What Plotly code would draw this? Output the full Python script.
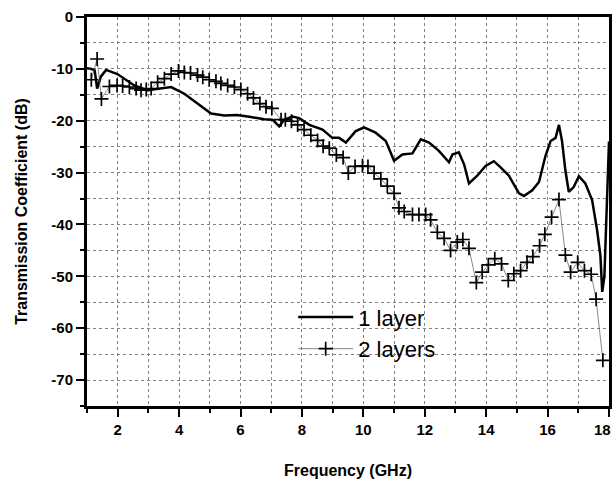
import plotly.graph_objects as go

# 1 layer (solid line)
freq_1 = [1.0, 1.14, 1.25, 1.33, 1.45, 1.62, 1.99, 2.54, 2.97, 3.3, 3.74, 4.17, 4.59, 5.04, 5.47, 5.89,
          6.34, 6.77, 7.04, 7.26, 7.42, 7.69, 7.91, 8.24, 8.67, 8.99, 9.21, 9.43, 9.75, 10.02, 10.4,
          10.73, 11.0, 11.27, 11.6, 11.87, 12.14, 12.46, 12.79, 12.9, 13.11, 13.28, 13.44, 13.71,
          13.98, 14.25, 14.47, 14.74, 15.07, 15.23, 15.5, 15.72, 15.93, 16.1, 16.26, 16.37, 16.47,
          16.58, 16.69, 16.85, 17.02, 17.23, 17.45, 17.61, 17.72, 17.78, 17.85, 17.92, 18.0]
tc_1 = [-9.9, -10.0, -10.3, -13.8, -11.5, -10.2, -11.0, -13.2, -14.1, -13.8, -13.5, -14.8, -16.7,
        -18.6, -19.0, -18.9, -19.3, -19.7, -19.8, -21.1, -19.8, -19.2, -19.5, -20.8, -21.7, -23.3,
        -23.3, -24.2, -22.0, -21.3, -22.3, -23.9, -27.7, -26.5, -26.3, -23.6, -24.2, -25.8, -28.0,
        -26.5, -26.1, -28.4, -32.1, -30.6, -28.7, -27.8, -29.0, -30.6, -34.0, -34.5, -33.4, -31.8,
        -26.8, -23.9, -23.3, -20.8, -23.9, -29.6, -33.7, -32.8, -30.7, -32.1, -35.3, -41.0, -46.0,
        -53.0, -50.0, -38.0, -24.0]

# 2 layers (line + symbols)
freq_2 = [1.14, 1.33, 1.47, 1.73, 1.98, 2.16, 2.38, 2.6, 2.76, 2.93, 3.09, 3.3, 3.52, 3.74, 3.98,
          4.17, 4.37, 4.6, 4.77, 4.98, 5.2, 5.36, 5.58, 5.8, 6.01, 6.23, 6.42, 6.63, 6.83, 7.02,
          7.32, 7.46, 7.66, 7.86, 8.07, 8.29, 8.51, 8.69, 8.89, 9.12, 9.34, 9.51, 9.73, 9.97, 10.15,
          10.35, 10.57, 10.78, 11.0, 11.16, 11.33, 11.6, 11.81, 12.03, 12.19, 12.41, 12.63, 12.84,
          13.06, 13.24, 13.44, 13.68, 13.87, 14.07, 14.28, 14.5, 14.72, 14.9, 15.12, 15.33, 15.52,
          15.74, 15.91, 16.13, 16.37, 16.58, 16.75, 16.98, 17.2, 17.42, 17.58, 17.8]
tc_2 = [-12.1, -8.1, -15.8, -13.4, -13.2, -13.3, -13.5, -13.8, -14.1, -14.0, -13.8, -12.6, -11.9,
        -11.0, -10.4, -10.7, -10.8, -11.2, -11.6, -12.1, -12.4, -12.8, -13.2, -13.5, -14.0, -14.8,
        -15.6, -16.7, -17.3, -17.6, -19.8, -19.8, -20.1, -20.8, -21.7, -22.8, -23.8, -24.9, -25.3,
        -26.6, -27.1, -30.1, -28.8, -28.7, -28.8, -30.1, -31.2, -32.6, -34.0, -36.8, -37.5, -38.1,
        -38.1, -38.1, -39.1, -41.5, -42.7, -45.0, -43.4, -42.9, -44.6, -51.2, -49.2, -47.8, -46.6,
        -47.6, -50.8, -49.5, -48.9, -47.3, -46.2, -44.1, -41.9, -38.6, -35.2, -45.9, -49.2, -47.3,
        -48.9, -49.6, -54.4, -66.2]

x_ticks = [2, 4, 6, 8, 10, 12, 14, 16]
x_last_tick = 18
y_ticks = [0, -10, -20, -30, -40, -50, -60, -70]

FONT = "Arial, Liberation Sans, sans-serif"

fig = go.Figure()
fig.add_trace(go.Scatter(x=freq_1, y=tc_1, mode="lines", name="1 layer",
                         line=dict(color="black", width=2.5)))
fig.add_trace(go.Scatter(x=freq_2, y=tc_2, mode="lines+markers", name="2 layers",
                         line=dict(color="#555", width=0.7),
                         marker=dict(symbol="cross-thin", size=10, color="black",
                                     line=dict(color="black", width=1.7))))

axis_common = dict(showline=True, linecolor="black", linewidth=3, mirror=True,
                   ticks="outside", ticklen=8, tickwidth=2, tickcolor="black",
                   showgrid=False, zeroline=False,
                   tickfont=dict(family=FONT, size=15, color="black", weight="bold"))

fig.update_xaxes(range=[1, 18], tickvals=x_ticks + [x_last_tick],
                 ticktext=[str(v) for v in x_ticks] + [""],
                 title=dict(text="<b>Frequency (GHz)</b>", font=dict(family=FONT, size=16, color="black"),
                            standoff=28),
                 minor=dict(dtick=1, tick0=1, ticks="outside", ticklen=4, tickcolor="black",
                            showgrid=True, gridcolor="#808080", griddash="dot", gridwidth=1),
                 **axis_common)
fig.update_yaxes(range=[-75, 0], tickvals=y_ticks, ticktext=[str(v) for v in y_ticks],
                 title=dict(text="<b>Transmission Coefficient (dB)</b>",
                            font=dict(family=FONT, size=16, color="black"), standoff=20),
                 minor=dict(dtick=5, tick0=0, ticks="outside", ticklen=4, tickcolor="black",
                            showgrid=True, gridcolor="#808080", griddash="dot", gridwidth=1),
                 **axis_common)

# last x tick label sits at the right edge; nudge it so it stays inside the page
fig.add_annotation(x=x_last_tick, y=0, xref="x", yref="paper", yanchor="top", yshift=-13,
                   xanchor="right", xshift=4,
                   text=f"<b>{x_last_tick}</b>", showarrow=False,
                   font=dict(family=FONT, size=15, color="black"))

fig.update_layout(
    width=616, height=481,
    margin=dict(l=87, r=4, t=17, b=68),
    paper_bgcolor="white", plot_bgcolor="white",
    font=dict(family=FONT, color="black"),
    legend=dict(x=0.395, y=0.187, xanchor="left", yanchor="middle",
                bgcolor="rgba(0,0,0,0)", font=dict(family=FONT, size=22, color="black"),
                itemwidth=55, tracegroupgap=0),
)

fig.write_html("out.html")
